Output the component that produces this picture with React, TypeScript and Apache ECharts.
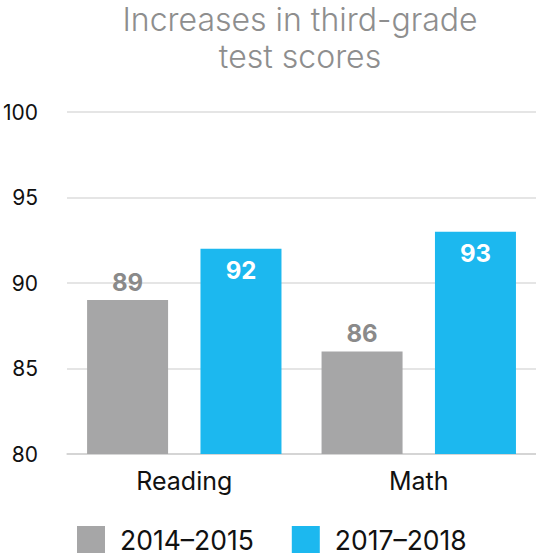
import React, { useEffect, useRef } from "react";
import * as echarts from "echarts";

const categories = ["Reading", "Math"];
const seriesNames = ["2014–2015", "2017–2018"];
const values2014 = [89, 86];
const values2017 = [92, 93];
const yTicks = { min: 80, max: 100, interval: 5 };
const titleText = "Increases in third-grade\ntest scores";

const FONT = "Inter, 'Noto Sans', sans-serif";

export default function App() {
  const ref = useRef<HTMLDivElement>(null);
  useEffect(() => {
    if (!ref.current) return;
    const chart = echarts.init(ref.current, null, { renderer: "svg" });
    chart.setOption({
      animation: false,
      textStyle: { fontFamily: FONT },
      title: {
        text: titleText,
        left: 300,
        top: 1,
        textAlign: "center",
        padding: 0,
        textStyle: {
          fontFamily: FONT,
          fontSize: 32,
          fontWeight: 300,
          color: "#8e8e8e",
          lineHeight: 37,
        },
      },
      grid: { left: 67, right: 0, top: 112, bottom: 104 },
      legend: {
        data: seriesNames,
        left: 77,
        bottom: 2,
        itemWidth: 28,
        itemHeight: 27,
        itemGap: 38,
        icon: "rect",
        padding: 0,
        textStyle: {
          fontFamily: FONT,
          fontSize: 26.5,
          lineHeight: 27,
          color: "#111",
          padding: [0, 0, 6, 10],
        },
      },
      xAxis: {
        type: "category",
        data: categories,
        axisTick: { show: false },
        axisLine: { show: true, lineStyle: { color: "#cfcfcf", width: 1.5 } },
        axisLabel: { fontFamily: FONT, fontSize: 25, color: "#111", margin: 14 },
      },
      yAxis: {
        type: "value",
        min: yTicks.min,
        max: yTicks.max,
        interval: yTicks.interval,
        axisLine: { show: false },
        axisTick: { show: false },
        axisLabel: { fontFamily: FONT, fontSize: 21, color: "#111", margin: 29 },
        splitLine: { lineStyle: { color: "#dcdcdc", width: 1.5 } },
      },
      series: [
        {
          name: seriesNames[0],
          type: "bar",
          data: values2014,
          barWidth: 81,
          barGap: "40%",
          itemStyle: { color: "#a6a6a7" },
          label: {
            show: true,
            position: "top",
            distance: 6,
            fontFamily: FONT,
            fontSize: 24,
            fontWeight: "bold",
            color: "#8a8a8a",
          },
        },
        {
          name: seriesNames[1],
          type: "bar",
          data: values2017,
          barWidth: 81,
          itemStyle: { color: "#1cb8ef" },
          label: {
            show: true,
            position: "insideTop",
            distance: 10,
            fontFamily: FONT,
            fontSize: 24,
            fontWeight: "bold",
            color: "#ffffff",
          },
        },
      ],
    });
    return () => chart.dispose();
  }, []);
  return <div ref={ref} style={{ width: 536, height: 558, position: "absolute", left: 0, top: 0 }} />;
}
